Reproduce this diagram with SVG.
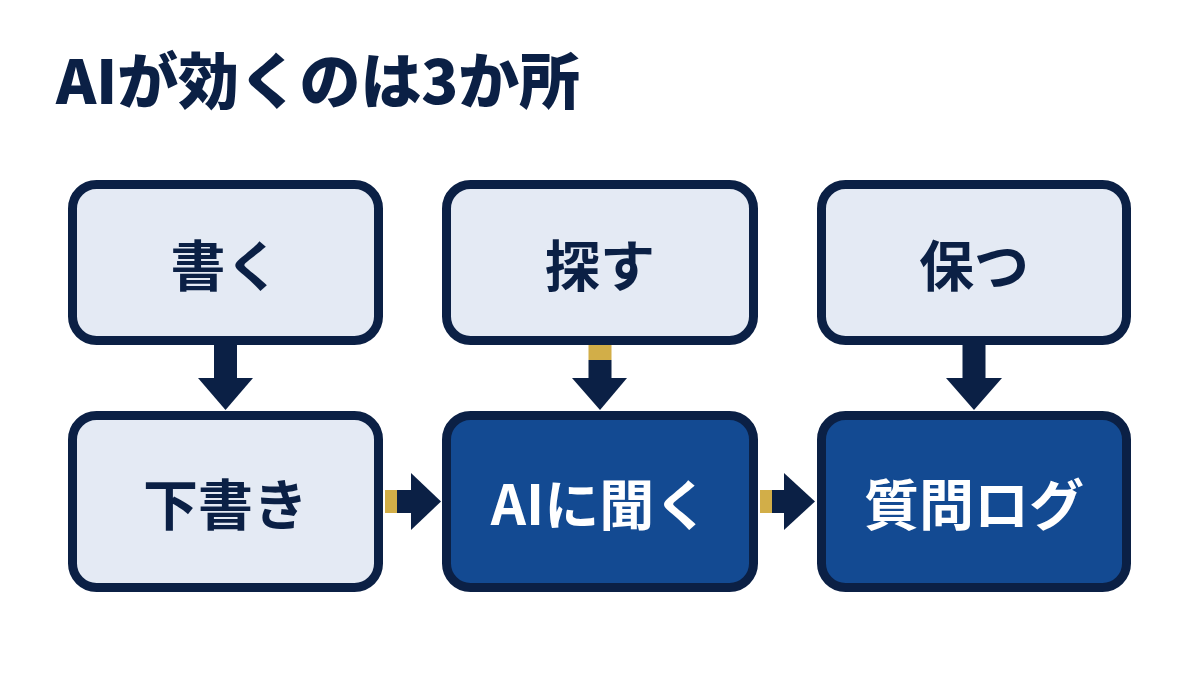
<svg xmlns="http://www.w3.org/2000/svg" width="1200" height="675" viewBox="0 0 1200 675">
<style>
.title{font-family:"Noto Sans CJK JP","Noto Sans",sans-serif;font-weight:900;font-size:61px;fill:#0B2045}
.lbl{font-family:"Noto Sans CJK JP","Noto Sans",sans-serif;font-weight:700;font-size:55px;text-anchor:middle;dominant-baseline:central}
.light rect{fill:#E4EAF4;stroke:#0B2045;stroke-width:9}
.dark rect{fill:#134A92;stroke:#0B2045;stroke-width:9}
.light text{fill:#0B2045}
.dark text{fill:#FFFFFF}
.navy{fill:#0B2045}
.gold{fill:#D2AE48}
</style>
<rect width="1200" height="675" fill="#FFFFFF"/>
<text class="title" x="56" y="104" textLength="524" lengthAdjust="spacing">AIが効くのは3か所</text>
<g id="connectors">
  <g id="c1">
    <rect class="navy" x="214" y="343" width="23" height="36"/>
    <polygon class="navy" points="198,378 253,378 225.5,410"/>
  </g>
  <g id="c2">
    <rect class="gold" x="588.5" y="343" width="23" height="17"/>
    <rect class="navy" x="588.5" y="360" width="23" height="19"/>
    <polygon class="navy" points="572,378 627,378 600,410"/>
  </g>
  <g id="c3">
    <rect class="navy" x="962.5" y="343" width="23" height="36"/>
    <polygon class="navy" points="946,378 1002,378 974,410"/>
  </g>
  <g id="c4">
    <rect class="gold" x="385" y="490" width="12" height="23"/>
    <rect class="navy" x="397" y="490" width="15" height="23"/>
    <polygon class="navy" points="411,473 441,501.5 411,530"/>
  </g>
  <g id="c5">
    <rect class="gold" x="760" y="490" width="12" height="23"/>
    <rect class="navy" x="772" y="490" width="13" height="23"/>
    <polygon class="navy" points="784,473 815,501.5 784,530"/>
  </g>
</g>
<g id="n1" class="light">
  <rect x="72.5" y="184.5" width="306" height="156" rx="24"/>
  <text class="lbl" x="225.5" y="262">書く</text>
</g>
<g id="n2" class="light">
  <rect x="446.5" y="184.5" width="307" height="156" rx="24"/>
  <text class="lbl" x="600" y="262">探す</text>
</g>
<g id="n3" class="light">
  <rect x="821.5" y="184.5" width="305" height="156" rx="24"/>
  <text class="lbl" x="974" y="262">保つ</text>
</g>
<g id="n4" class="light">
  <rect x="72.5" y="415.5" width="306" height="172" rx="24"/>
  <text class="lbl" x="225.5" y="501">下書き</text>
</g>
<g id="n5" class="dark">
  <rect x="446.5" y="415.5" width="307" height="172" rx="24"/>
  <text class="lbl" x="600" y="501">AIに聞く</text>
</g>
<g id="n6" class="dark">
  <rect x="821.5" y="415.5" width="305" height="172" rx="24"/>
  <text class="lbl" x="974" y="501">質問ログ</text>
</g>
</svg>
